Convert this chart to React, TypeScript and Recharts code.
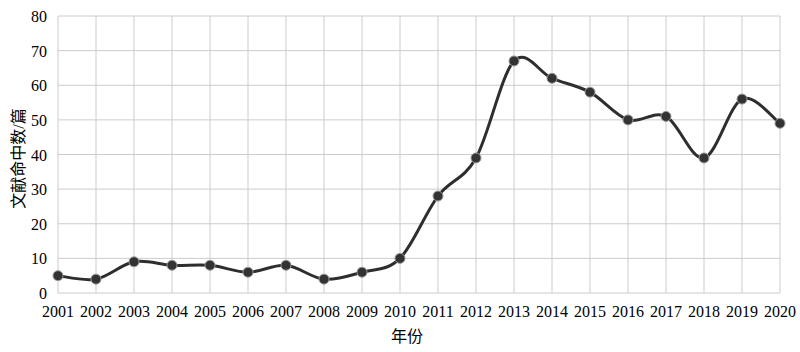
import { LineChart, Line, XAxis, YAxis, CartesianGrid } from 'recharts';

const years = [
  '2001', '2002', '2003', '2004', '2005', '2006', '2007', '2008', '2009', '2010',
  '2011', '2012', '2013', '2014', '2015', '2016', '2017', '2018', '2019', '2020',
];
const counts = [5, 4, 9, 8, 8, 6, 8, 4, 6, 10, 28, 39, 67, 62, 58, 50, 51, 39, 56, 49];
const yTicks = [0, 10, 20, 30, 40, 50, 60, 70, 80];

const data = years.map((year, i) => ({ year, count: counts[i] }));

const FONT = 'Liberation Serif, Noto Sans CJK SC, serif';

// Catmull-Rom style spline (overshoots a little at the peaks like the original)
function cardinalCurve(context: any) {
  let pts: [number, number][] = [];
  return {
    areaStart() {},
    areaEnd() {},
    lineStart() {
      pts = [];
    },
    lineEnd() {
      if (!pts.length) return;
      context.moveTo(pts[0][0], pts[0][1]);
      for (let i = 0; i < pts.length - 1; i++) {
        const p0 = pts[Math.max(i - 1, 0)];
        const p1 = pts[i];
        const p2 = pts[i + 1];
        const p3 = pts[Math.min(i + 2, pts.length - 1)];
        context.bezierCurveTo(
          p1[0] + (p2[0] - p0[0]) / 6,
          p1[1] + (p2[1] - p0[1]) / 6,
          p2[0] - (p3[0] - p1[0]) / 6,
          p2[1] - (p3[1] - p1[1]) / 6,
          p2[0],
          p2[1]
        );
      }
    },
    point(x: number, y: number) {
      pts.push([+x, +y]);
    },
  };
}

const XTick = (props: any) => (
  <text
    x={props.x}
    y={props.y + 16}
    textAnchor="middle"
    fontFamily={FONT}
    fontSize={16}
    fill="#000"
  >
    {props.payload.value}
  </text>
);

const YTick = (props: any) => (
  <text
    x={props.x}
    y={props.y + 6}
    textAnchor="end"
    fontFamily={FONT}
    fontSize={16}
    fill="#000"
  >
    {props.payload.value}
  </text>
);

const XLabel = (props: any) => {
  const vb = props.viewBox;
  return (
    <text
      x={vb.x + vb.width / 2 - 12}
      y={vb.y + 49}
      textAnchor="middle"
      fontFamily={FONT}
      fontSize={16}
      fill="#000"
    >
      年份
    </text>
  );
};

const YLabel = (props: any) => {
  const vb = props.viewBox;
  const cx = 18;
  const cy = vb.y + vb.height / 2 + 4;
  return (
    <text
      x={cx}
      y={cy}
      transform={`rotate(-90 ${cx} ${cy})`}
      textAnchor="middle"
      dominantBaseline="central"
      fontFamily={FONT}
      fontSize={16}
      fill="#000"
    >
      文献命中数/篇
    </text>
  );
};

export default function App() {
  return (
    <div
      style={{
        position: 'absolute',
        left: 0,
        top: 0,
        width: 800,
        height: 352,
        background: '#fff',
      }}
    >
      <LineChart
        width={800}
        height={352}
        data={data}
        margin={{ top: 16, right: 20, left: 0, bottom: 0 }}
      >
        <CartesianGrid stroke="#cccccc" strokeWidth={1} />
        <XAxis
          dataKey="year"
          height={59}
          axisLine={false}
          tickLine={false}
          interval={0}
          tick={<XTick />}
          label={{ content: <XLabel /> }}
        />
        <YAxis
          width={58}
          domain={[0, 80]}
          ticks={yTicks}
          axisLine={false}
          tickLine={false}
          tick={<YTick />}
          tickMargin={5}
          label={{ content: <YLabel /> }}
        />
        <Line
          dataKey="count"
          type={cardinalCurve as any}
          stroke="#2e2e2e"
          strokeWidth={3}
          dot={{ r: 5, fill: '#333', stroke: '#999', strokeWidth: 1 }}
          isAnimationActive={false}
        />
      </LineChart>
    </div>
  );
}
